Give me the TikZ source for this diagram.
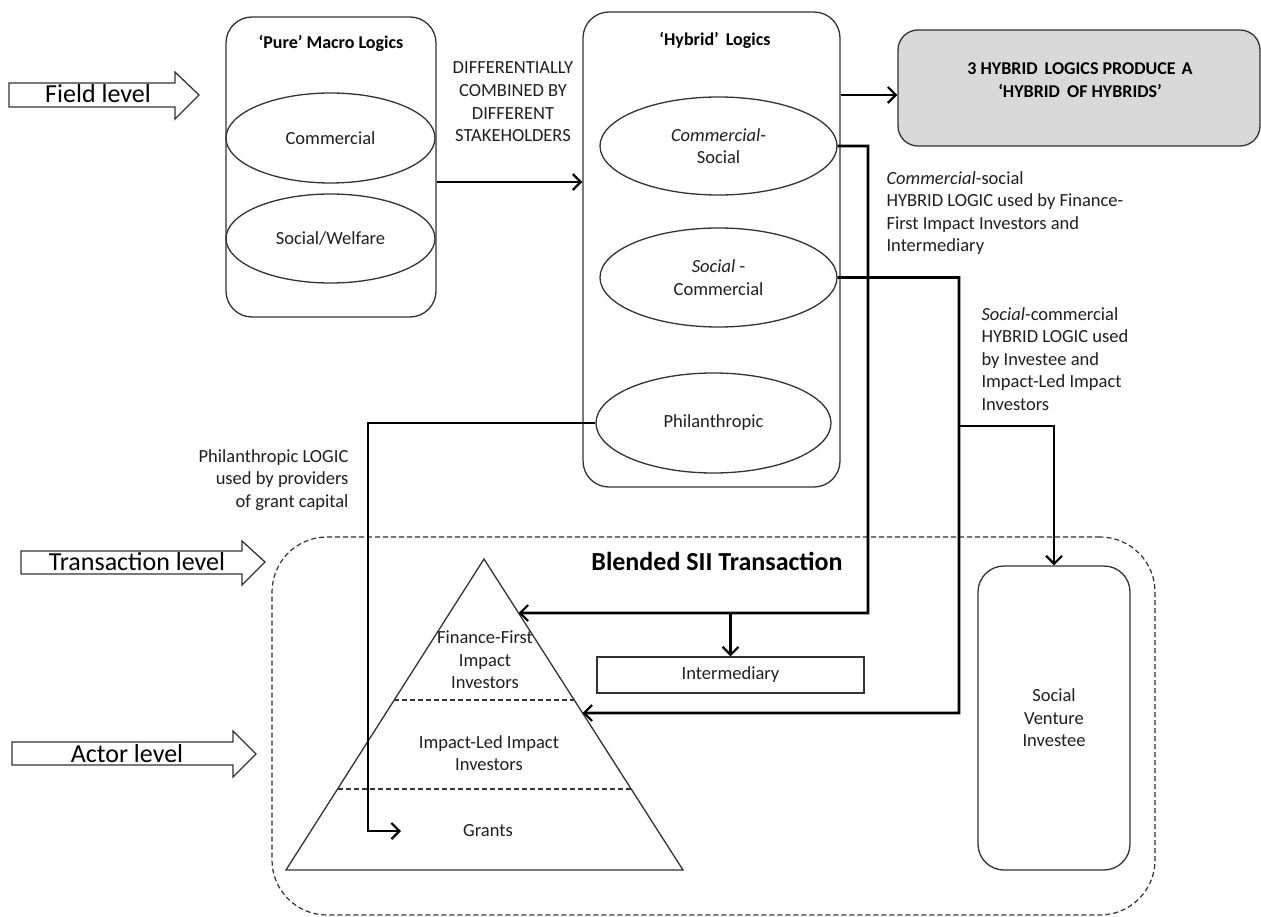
\documentclass[tikz,border=0pt]{standalone}
\usepackage{fontspec}
\setmainfont{Carlito}
\usetikzlibrary{arrows.meta,calc,shapes.geometric}
\definecolor{outl}{HTML}{333333}
\definecolor{txt}{HTML}{1F1F1F}
\definecolor{hhfill}{HTML}{D9D9D9}
\begin{document}
\begin{tikzpicture}[x=1pt,y=-1pt,
  body/.style={font=\fontsize{18.5}{22.6}\selectfont, text=txt},
  ttl/.style={font=\bfseries\fontsize{18}{22.6}\selectfont, text=black},
  lvl/.style={font=\fontsize{26}{30}\selectfont, text=black},
  ell/.style={ellipse, draw=outl, line width=1.3pt, inner sep=0pt, align=center, body},
  rbox/.style={draw=outl, line width=1.3pt, rounded corners=26pt, inner sep=0pt},
  lvlarrow/.style={draw=outl, line width=1.3pt, fill=white},
  conn/.style={line width=2.6pt, draw=black, -{Straight Barb[length=8pt,width=16pt,line width=2.2pt]}},
  dline/.style={draw=outl, line width=1.2pt, dash pattern=on 5pt off 3pt}
]
\useasboundingbox (0,0) rectangle (1261,917);

% level arrows
\draw[lvlarrow] (9,83) -- (175,83) -- (175,72) -- (199,95) -- (175,119) -- (175,107) -- (9,107) -- cycle;
\node[lvl, anchor=base] (fieldl) at (98,103) {Field level};
\draw[lvlarrow] (21,551) -- (242,551) -- (242,541) -- (265,562) -- (242,585) -- (242,574) -- (21,574) -- cycle;
\node[lvl, anchor=base] (transl) at (137,570) {Transaction level};
\draw[lvlarrow] (12,742) -- (233,742) -- (233,731) -- (256,754) -- (233,777) -- (233,765) -- (12,765) -- cycle;
\node[lvl, anchor=base] (actorl) at (127,762) {Actor level};

% pure macro logics
\node[rbox, minimum width=210pt, minimum height=300pt] (pure) at (331,167) {};
\node[ttl] (puret) at (331,43) {‘Pure’ Macro Logics};
\node[ell, minimum width=209pt, minimum height=90pt] (com) at (330.5,138) {Commercial};
\node[ell, minimum width=209pt, minimum height=89pt] (soc) at (330.5,238.5) {Social/Welfare};

% differentially text
\node[body, align=center] (diff) at (513,102) {DIFFERENTIALLY\\COMBINED BY\\DIFFERENT\\STAKEHOLDERS};

% hybrid logics
\node[rbox, minimum width=257pt, minimum height=475pt] (hyb) at (711.5,249.5) {};
\node[ttl] (hybt) at (715,40) {‘Hybrid’\hspace{3pt} Logics};
\node[ell, minimum width=237pt, minimum height=98pt] (cs) at (718.5,146) {\textit{Commercial}-\\Social};
\node[ell, minimum width=237pt, minimum height=99pt] (sc) at (718.5,277.5) {\textit{Social} -\\Commercial};
\node[ell, minimum width=235pt, minimum height=100pt] (ph) at (713.5,423) {Philanthropic};

% hybrid of hybrids
\node[rbox, rounded corners=20pt, fill=hhfill, minimum width=362pt, minimum height=116pt] (hh) at (1079,88) {};
\node[ttl, align=center] (hht) at (1080,80) {3 HYBRID\hspace{3pt} LOGICS PRODUCE\hspace{2pt} A\\‘HYBRID\hspace{3pt} OF HYBRIDS’};

% labels
\node[body, anchor=west, align=left] (cslab) at (883,213) {\textit{Commercial}-social\\HYBRID LOGIC used by Finance-\\First Impact Investors and\\Intermediary};
\node[body, anchor=west, align=left] (sclab) at (978,359) {\textit{Social}-commercial\\HYBRID LOGIC used\\by Investee and\\Impact-Led Impact\\Investors};
\node[body, anchor=east, align=right] (phlab) at (352,480) {Philanthropic LOGIC\\used by providers\\of grant capital};

% blended transaction region
\node[draw=outl, line width=1.2pt, dash pattern=on 5pt off 3pt, rounded corners=55pt, minimum width=883pt, minimum height=378pt, inner sep=0pt] (blend) at (713.5,726) {};
\node[font=\bfseries\fontsize{26}{30}\selectfont] (blendt) at (717,561) {Blended SII Transaction};

% pyramid
\coordinate (apex) at (484,559);
\coordinate (bl) at (286,870);
\coordinate (br) at (683,870);
\draw[draw=outl, line width=1.3pt] (apex) -- (bl) -- (br) -- cycle;
\draw[dline] ($(apex)!{141/311}!(bl)$) -- ($(apex)!{141/311}!(br)$);
\draw[dline] ($(apex)!{230/311}!(bl)$) -- ($(apex)!{230/311}!(br)$);
\coordinate (t1) at ($(apex)!{54/311}!(br)$);
\coordinate (t2) at ($(apex)!{154/311}!(br)$);
\node[body, align=center] (ff) at (485,660) {Finance-First\\Impact\\Investors};
\node[body, align=center] (il) at (489,753) {Impact-Led Impact\\Investors};
\node[body] (gr) at (488,831) {Grants};
\coordinate (gtip) at (401,831);

% intermediary and investee
\node[draw=outl, line width=1.3pt, minimum width=267pt, minimum height=36pt, inner sep=0pt, body] (int) at (730.5,675) {Intermediary};
\node[rbox, minimum width=152pt, minimum height=304pt, align=center, body] (sv) at (1054,718) {Social\\Venture\\Investee};

% connectors
\draw[conn] (pure.east |- 0,182) -- (hyb.west |- 0,182);
\draw[conn] (hyb.east |- 0,95) -- (hh.west |- 0,95);
\draw[conn] (cs.east) -| (868,613) -- (t1);
\draw[conn] (int.north |- 0,613) -- (int.north);
\draw[conn] (sc.east) -| (959,713) -- (t2);
\draw[conn] (959,426) -| (sv.north);
\draw[conn] (ph.west) -| (368,831) -- (gtip);
\end{tikzpicture}
\end{document}
